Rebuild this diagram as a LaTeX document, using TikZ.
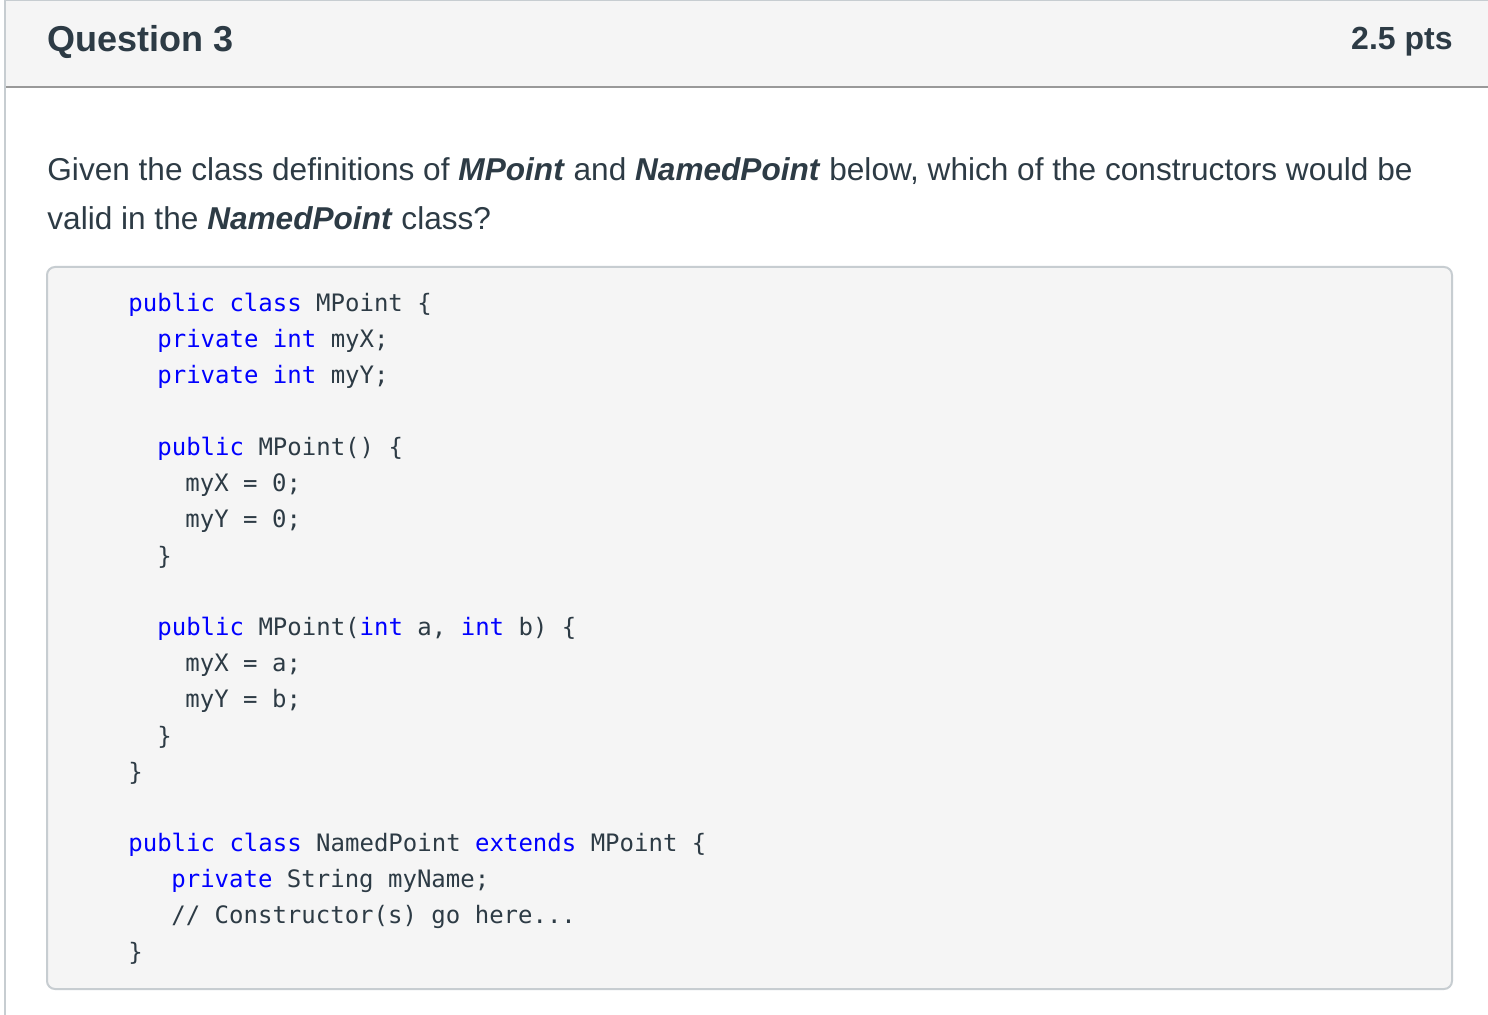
\documentclass[tikz,border=0pt]{standalone}
\usepackage{fontspec}
\setmainfont{Liberation Sans}
\setmonofont{DejaVu Sans Mono}
\definecolor{txt}{HTML}{2D3B45}
\definecolor{hdrbg}{HTML}{F5F5F5}
\definecolor{rule}{HTML}{C7CDD1}
\definecolor{kwblue}{HTML}{0000FF}
\newcommand{\kw}[1]{\textcolor{kwblue}{#1}}
\tikzset{
  codeline/.style={anchor=west, inner sep=0pt, text=txt, font=\fontsize{12}{14}\ttfamily},
  bodytext/.style={anchor=west, inner sep=0pt, text=txt, font=\fontsize{15.8}{19}\selectfont}
}
\begin{document}
\begin{tikzpicture}[x=0.5pt,y=-0.5pt]
  \useasboundingbox (0,0) rectangle (1488,1015);
  \fill[white] (0,0) rectangle (1488,1015);
  % header
  \fill[hdrbg] (5,0) rectangle (1488,87);
  \draw[rule, line width=1pt] (5,0) -- (1488,0);
  \draw[gray!80, line width=1pt] (5,87) -- (1488,87);
  \draw[rule, line width=1pt] (5,0) -- (5,1015);
  \node[bodytext, font=\fontsize{18}{22}\bfseries] (title) at (47,42) {Question 3};
  \node[bodytext, anchor=east, font=\fontsize{16}{20}\bfseries] (pts) at (1453,42) {2.5 pts};
  % question text
  \node[bodytext] (q1) at (47,171) {Given the class definitions of \textbf{\textit{MPoint}} and \textbf{\textit{NamedPoint}} below, which of the constructors would be};
  \node[bodytext] (q2) at (47,218) {valid in the \textbf{\textit{NamedPoint}} class?};
  % code box
  \draw[rule, fill=hdrbg, rounded corners=4pt, line width=1pt] (47,267) rectangle (1452,989);
  \node[codeline] (c1) at (128,305) {\kw{public} \kw{class} MPoint \{};
  \node[codeline] (c2) at (157,341) {\kw{private} \kw{int} myX;};
  \node[codeline] (c3) at (157,377) {\kw{private} \kw{int} myY;};
  \node[codeline] (c4) at (157,449) {\kw{public} MPoint() \{};
  \node[codeline] (c5) at (185,485) {myX = 0;};
  \node[codeline] (c6) at (185,521) {myY = 0;};
  \node[codeline] (c7) at (157,557) {\}};
  \node[codeline] (c8) at (157,629) {\kw{public} MPoint(\kw{int} a, \kw{int} b) \{};
  \node[codeline] (c9) at (185,665) {myX = a;};
  \node[codeline] (c10) at (185,701) {myY = b;};
  \node[codeline] (c11) at (157,737) {\}};
  \node[codeline] (c12) at (128,773) {\}};
  \node[codeline] (c13) at (128,845) {\kw{public} \kw{class} NamedPoint \kw{extends} MPoint \{};
  \node[codeline] (c14) at (171,881) {\kw{private} String myName;};
  \node[codeline] (c15) at (171,917) {// Constructor(s) go here...};
  \node[codeline] (c16) at (128,953) {\}};
\end{tikzpicture}
\end{document}
